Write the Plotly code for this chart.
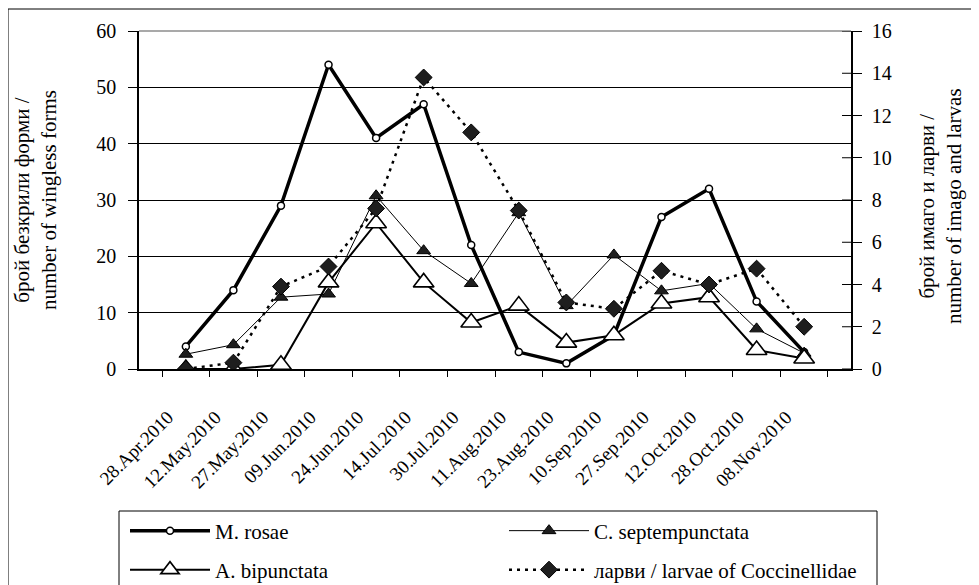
import plotly.graph_objects as go

dates = ["28.Apr.2010", "12.May.2010", "27.May.2010", "09.Jun.2010", "24.Jun.2010",
         "14.Jul.2010", "30.Jul.2010", "11.Aug.2010", "23.Aug.2010", "10.Sep.2010",
         "27.Sep.2010", "12.Oct.2010", "28.Oct.2010", "08.Nov.2010"]
m_rosae = [4, 14, 29, 54, 41, 47, 22, 3, 1, 6, 27, 32, 12, 3]
c_sept = [0.7, 1.15, 3.4, 3.55, 8.2, 5.6, 4.05, 7.4, 3.0, 5.4, 3.7, 4.05, 1.9, 0.75]
a_bip = [0, 0, 0.2, 4.1, 6.9, 4.1, 2.2, 3.0, 1.25, 1.6, 3.1, 3.4, 0.9, 0.5]
larvae = [0, 0.3, 3.9, 4.85, 7.6, 13.8, 11.2, 7.5, 3.15, 2.85, 4.65, 4.0, 4.75, 2.0]

left_ticks = [0, 10, 20, 30, 40, 50, 60]
right_ticks = [0, 2, 4, 6, 8, 10, 12, 14, 16]

FONT = "Liberation Serif"
W, H = 979, 585
OFF = 8  # page body margin: screen = figure + 8
# plot area in screen pixels
SL, SR, ST, SB = 139, 851, 31, 369
PL, PR, PT, PB = SL - OFF, SR - OFF, ST - OFF, SB - OFF
PW, PH = PR - PL, PB - PT


def px(x):  # screen x -> paper
    return (x - OFF - PL) / PW


def py(y):  # screen y -> paper
    return (PB - (y - OFF)) / PH


fig = go.Figure()

fig.add_trace(go.Scatter(
    x=dates, y=m_rosae, name="M. rosae", mode="lines+markers",
    line=dict(color="black", width=3.5),
    marker=dict(symbol="circle", size=7, color="white", line=dict(color="black", width=1.5)),
    legend="legend", yaxis="y"))
fig.add_trace(go.Scatter(
    x=dates, y=c_sept, name="C. septempunctata", mode="lines+markers",
    line=dict(color="black", width=1),
    marker=dict(symbol="triangle-up", size=12, color="#1e1e1e", line=dict(color="black", width=1)),
    legend="legend2", yaxis="y2"))
fig.add_trace(go.Scatter(
    x=dates, y=a_bip, name="A. bipunctata", mode="lines+markers",
    line=dict(color="black", width=2),
    marker=dict(symbol="triangle-up", size=18, color="white", line=dict(color="black", width=1.6)),
    legend="legend3", yaxis="y2"))
fig.add_trace(go.Scatter(
    x=dates, y=larvae, name="ларви / larvae of Coccinellidae", mode="lines+markers",
    line=dict(color="black", width=2.5, dash="3px,5px"),
    marker=dict(symbol="diamond", size=13, color="#1e1e1e", line=dict(color="black", width=1)),
    legend="legend4", yaxis="y2"))

ITEMW = 80
leg_common = dict(font=dict(family=FONT, size=21, color="black"), bgcolor="rgba(0,0,0,0)",
                  borderwidth=0, xanchor="left", yanchor="middle", orientation="h",
                  itemwidth=ITEMW)
GAP = ITEMW + 10

shapes = [
    # outer border
    dict(type="rect", xref="paper", yref="paper", x0=px(8), x1=px(1000), y0=py(9), y1=py(640),
         line=dict(color="black", width=1), layer="above"),
    # legend border
    dict(type="rect", xref="paper", yref="paper", x0=px(119), x1=px(877), y0=py(511), y1=py(640),
         line=dict(color="black", width=1), layer="above"),
    # plot area top border (gray)
    dict(type="line", xref="paper", yref="paper", x0=0, x1=1, y0=1, y1=1,
         line=dict(color="#8c8c8c", width=1.5), layer="above"),
]
# inner half of the crossing ticks on the right axis
for v in right_ticks:
    shapes.append(dict(type="line", xref="paper", yref="y2", x0=1 - 9 / PW, x1=1, y0=v, y1=v,
                       line=dict(color="black", width=1), layer="above"))

annotations = [
    dict(text="брой безкрили форми /<br>number of wingless forms", xref="paper", yref="paper",
         x=px(35), y=py(200), textangle=-90, showarrow=False,
         font=dict(family=FONT, size=21, color="black"), xanchor="center", yanchor="middle"),
    dict(text="брой имаго и ларви /<br>number of imago and larvas", xref="paper", yref="paper",
         x=px(940), y=py(206), textangle=-90, showarrow=False,
         font=dict(family=FONT, size=21, color="black"), xanchor="center", yanchor="middle"),
]

fig.update_layout(
    width=W, height=H,
    margin=dict(l=PL, r=W - PR, t=PT, b=H - PB, autoexpand=False),
    paper_bgcolor="white", plot_bgcolor="white",
    font=dict(family=FONT, size=19, color="black"),
    showlegend=True,
    legend=dict(x=px(215 - GAP), y=py(531), **leg_common),
    legend2=dict(x=px(594 - GAP), y=py(531), **leg_common),
    legend3=dict(x=px(215 - GAP), y=py(570), **leg_common),
    legend4=dict(x=px(594 - GAP), y=py(570), **leg_common),
    xaxis=dict(type="category", categoryorder="array", categoryarray=dates,
               showline=True, linecolor="black", linewidth=1.5,
               ticks="outside", ticklen=6, tickcolor="black", tickson="boundaries",
               tickangle=-45, showgrid=False, zeroline=False,
               ticklabelstandoff=28, ticklabelshift=-18,
               tickfont=dict(family=FONT, size=19, color="black")),
    yaxis=dict(range=[0, 60], tickvals=left_ticks, showline=True, linecolor="black", linewidth=1.5,
               ticks="outside", ticklen=9, tickcolor="black", ticklabelstandoff=8,
               showgrid=True, gridcolor="black", gridwidth=1, zeroline=False,
               tickfont=dict(family=FONT, size=20, color="black")),
    yaxis2=dict(range=[0, 16], tickvals=right_ticks, overlaying="y", side="right",
                showline=True, linecolor="black", linewidth=1.5,
                ticks="outside", ticklen=9, tickcolor="black", ticklabelstandoff=6,
                showgrid=False, zeroline=False,
                tickfont=dict(family=FONT, size=20, color="black")),
    shapes=shapes,
    annotations=annotations,
)

fig.write_html("out.html")
